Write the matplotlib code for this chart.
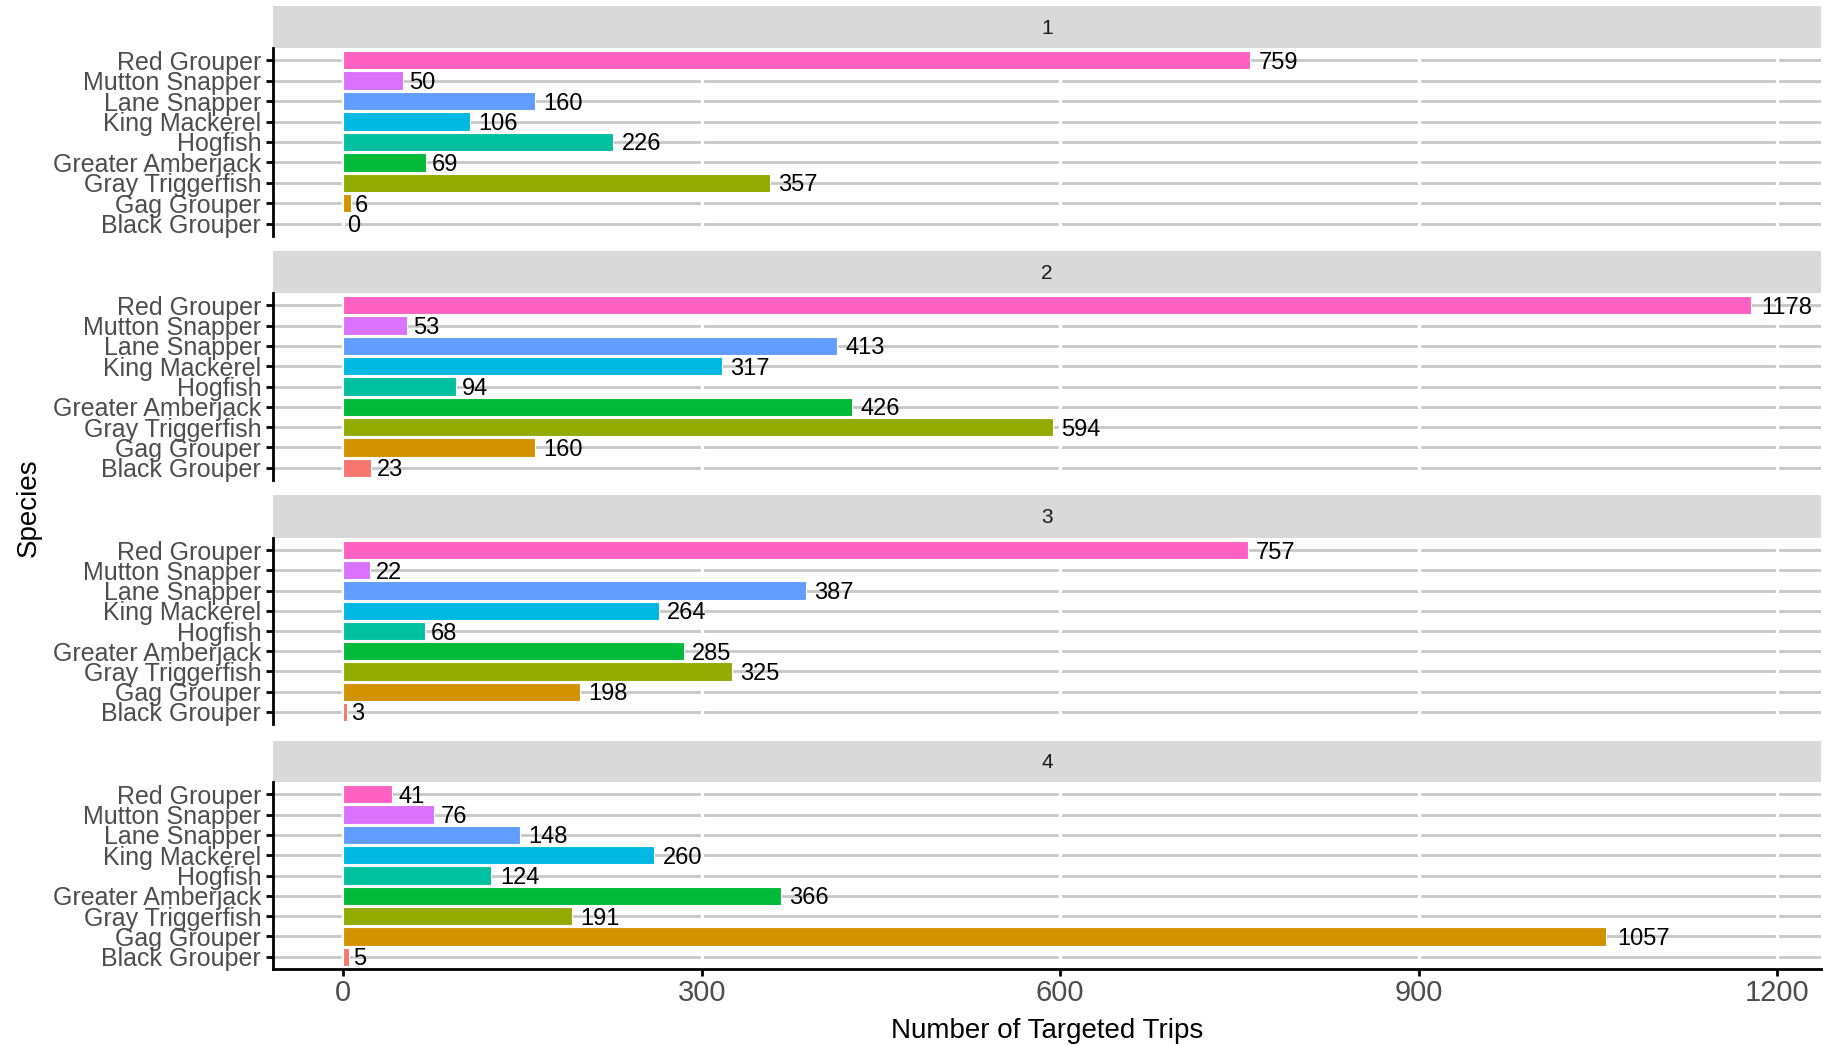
# Targeted trips by species, one panel per group (ggplot-like facet layout)

import matplotlib
matplotlib.use("Agg")
import matplotlib.pyplot as plt
import numpy as np

plt.rcParams['font.family'] = ['Liberation Sans', 'DejaVu Sans']

species = ["Black Grouper", "Gag Grouper", "Gray Triggerfish", "Greater Amberjack",
           "Hogfish", "King Mackerel", "Lane Snapper", "Mutton Snapper", "Red Grouper"]
colors = ["#F8766D", "#D39200", "#93AA00", "#00BA38", "#00C19F",
          "#00B9E3", "#619CFF", "#DB72FB", "#FF61C3"]
panels = ["1", "2", "3", "4"]

trips_1 = [0, 6, 357, 69, 226, 106, 160, 50, 759]
trips_2 = [23, 160, 594, 426, 94, 317, 413, 53, 1178]
trips_3 = [3, 198, 325, 285, 68, 264, 387, 22, 757]
trips_4 = [5, 1057, 191, 366, 124, 260, 148, 76, 41]
trips = [trips_1, trips_2, trips_3, trips_4]

x_ticks = [0, 300, 600, 900, 1200]

W, H = 1823, 1045
fig = plt.figure(figsize=(W / 100, H / 100), dpi=100)

# layout in pixels
left_px, right_px = 273, 1821
strip_top = [6, 251, 495, 741]
strip_bot = [48, 293, 538, 782]
panel_bot = [236, 480, 724, 969]

vmax = max(max(t) for t in trips)
xmin, xmax = -0.05 * vmax, vmax * 1.05
ypos = np.arange(1, len(species) + 1)

for i in range(len(panels)):
    # strip
    sax = fig.add_axes([left_px / W, 1 - strip_bot[i] / H,
                        (right_px - left_px) / W, (strip_bot[i] - strip_top[i]) / H])
    sax.set_facecolor("#D9D9D9")
    sax.set_xticks([])
    sax.set_yticks([])
    for s in sax.spines.values():
        s.set_visible(False)
    sax.text(0.5, 0.47, panels[i], ha="center", va="center", fontsize=15,
             color="#1A1A1A", transform=sax.transAxes)

    # panel
    ax = fig.add_axes([left_px / W, 1 - panel_bot[i] / H,
                       (right_px - left_px) / W, (panel_bot[i] - strip_bot[i]) / H])
    ax.set_xlim(xmin, xmax)
    ax.set_ylim(0.4, len(species) + 0.6)
    for y in ypos:
        ax.axhline(y, color="#C8C8C8", lw=2.0, zorder=0)
    for xt in x_ticks:
        ax.axvline(xt, color="white", lw=2.4, zorder=1)
    ax.barh(ypos, trips[i], height=0.9, color=colors, edgecolor="white",
            linewidth=0.8, zorder=2)
    for y, v in zip(ypos, trips[i]):
        # gap grows with label width, like a negative hjust
        off = 1 + 1.7 * len(str(v))
        ax.annotate(str(v), (v, y), xytext=(off, 0), textcoords="offset points",
                    ha="left", va="center_baseline", fontsize=17, color="black",
                    zorder=3)

    ax.set_yticks(ypos)
    ax.set_yticklabels(species, fontsize=18, color="#4D4D4D")
    ax.tick_params(axis="y", length=5, width=2, color="black", pad=3.5)
    for name in ["top", "right"]:
        ax.spines[name].set_visible(False)
    ax.spines["left"].set_linewidth(2)
    ax.spines["left"].set_color("black")

    if i == len(panels) - 1:
        ax.set_xticks(x_ticks)
        ax.set_xticklabels([str(t) for t in x_ticks], fontsize=21, color="#4D4D4D")
        ax.tick_params(axis="x", length=5, width=2, color="black", pad=2)
        ax.spines["bottom"].set_linewidth(2)
        ax.spines["bottom"].set_color("black")
    else:
        ax.set_xticks([])
        ax.spines["bottom"].set_visible(False)

fig.text((left_px + right_px) / 2 / W, 1 - 1038 / H, "Number of Targeted Trips",
         ha="center", va="baseline", fontsize=20, color="black")
fig.text(36 / W, 1 - 508 / H, "Species", ha="center", va="baseline",
         rotation=90, rotation_mode="anchor", fontsize=20, color="black")

fig.savefig("out.png", dpi=100)
